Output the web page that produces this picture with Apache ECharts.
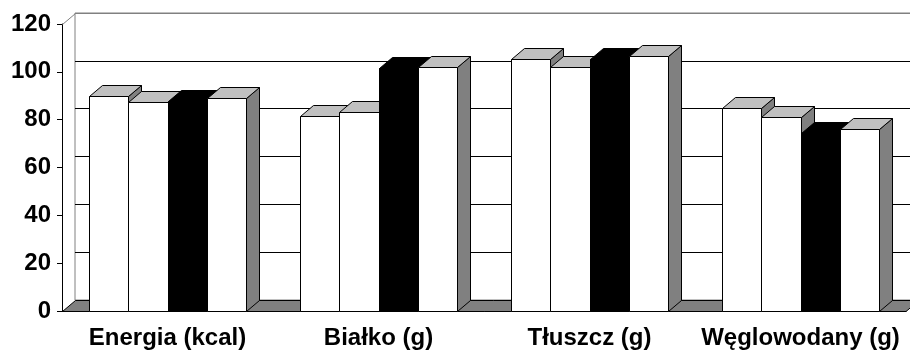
<!DOCTYPE html>
<html>
<head>
<meta charset="utf-8">
<script src="https://cdn.jsdelivr.net/npm/echarts@6/dist/echarts.min.js"></script>
<style>
html, body { margin: 0; background: #fff; }
#chart { width: 910px; height: 350px; }
</style>
</head>
<body>
<div id="chart"></div>
<script>
var categories = ['Energia (kcal)', 'Białko (g)', 'Tłuszcz (g)', 'Węglowodany (g)'];
var grupa1 = [90, 81.5, 105.5, 85];
var grupa2 = [87.5, 83, 102, 81];
var grupa3 = [88, 101.5, 105.5, 74.5];
var grupa4 = [89, 102, 106.5, 76];
var yTicks = [0, 20, 40, 60, 80, 100, 120];

// depth of the fake 3d
var DX = 13, DY = 11;
var font = { fontFamily: 'Liberation Sans', fontWeight: 'bold', fontSize: 24, color: '#000' };

function barRenderer(k, front, top, side) {
  return function (params, api) {
    var cat = api.value(0);
    var p = api.coord([cat, api.value(1)]);
    var base = api.coord([cat, 0]);
    var bw = api.size([1, 0])[0] * 0.185;
    var x0 = Math.round(p[0] - 2 * bw + k * bw) + 0.5;
    var x1 = Math.round(p[0] - 2 * bw + (k + 1) * bw) + 0.5;
    var yt = Math.round(p[1]) + 0.5, yb = Math.round(base[1]) + 0.5;
    var edge = { stroke: '#000', lineWidth: 1 };
    return {
      type: 'group',
      children: [
        { type: 'polygon', shape: { points: [[x1, yt], [x1 + DX, yt - DY], [x1 + DX, yb - DY], [x1, yb]] },
          style: Object.assign({ fill: side }, edge) },
        { type: 'polygon', shape: { points: [[x0, yt], [x0 + DX, yt - DY], [x1 + DX, yt - DY], [x1, yt]] },
          style: Object.assign({ fill: top }, edge) },
        { type: 'rect', shape: { x: x0, y: yt, width: x1 - x0, height: yb - yt },
          style: Object.assign({ fill: front }, edge) }
      ]
    };
  };
}

function toData(arr) {
  return arr.map(function (v, i) { return [i, v]; });
}

var chart = echarts.init(document.getElementById('chart'));
var option = {
  animation: false,
  grid: [
    { left: 62, right: 4, top: 24, bottom: 39, outerBoundsMode: 'none' },
    { left: 75, right: -9, top: 13, bottom: 50, outerBoundsMode: 'none',
      show: true, backgroundColor: '#fff', borderColor: '#808080', borderWidth: 1 }
  ],
  xAxis: [
    { type: 'category', data: categories, gridIndex: 0,
      axisLine: { lineStyle: { color: '#000', width: 1 } },
      axisTick: { length: 6, lineStyle: { color: '#000' } },
      axisLabel: Object.assign({ margin: 15, interval: 0 }, font) },
    { type: 'category', data: categories, gridIndex: 1, show: false }
  ],
  yAxis: [
    { type: 'value', gridIndex: 0, min: yTicks[0], max: yTicks[yTicks.length - 1], interval: 20,
      axisLine: { show: true, lineStyle: { color: '#000' } },
      axisTick: { show: true, length: 5, lineStyle: { color: '#000' } },
      splitLine: { show: false },
      axisLabel: Object.assign({ margin: 11 }, font) },
    { type: 'value', gridIndex: 1, min: yTicks[0], max: yTicks[yTicks.length - 1], interval: 20,
      axisLine: { show: false }, axisTick: { show: false }, axisLabel: { show: false },
      splitLine: { lineStyle: { color: ['#808080', '#000', '#000', '#000', '#000', '#000', '#808080'], width: 1 } } }
  ],
  series: [
    {
      // floor + left edge
      type: 'custom', xAxisIndex: 0, yAxisIndex: 0, data: [[0]],
      renderItem: function (params, api) {
        var cs = params.coordSys;
        var l = cs.x + 0.5, r = cs.x + cs.width, yb = cs.y + cs.height + 0.5, yt = cs.y + 0.5;
        return {
          type: 'group',
          children: [
            { type: 'polygon', shape: { points: [[l, yb], [l + DX, yb - DY], [r + DX, yb - DY], [r, yb]] },
              style: { fill: '#808080', stroke: '#000', lineWidth: 1 } },
            { type: 'line', shape: { x1: l, y1: yt, x2: l + DX, y2: yt - DY },
              style: { stroke: '#808080', lineWidth: 1 } }
          ]
        };
      }
    },
    { type: 'custom', name: 'grupa1', data: toData(grupa1), renderItem: barRenderer(0, '#fff', '#c0c0c0', '#808080') },
    { type: 'custom', name: 'grupa2', data: toData(grupa2), renderItem: barRenderer(1, '#fff', '#c0c0c0', '#808080') },
    { type: 'custom', name: 'grupa3', data: toData(grupa3), renderItem: barRenderer(2, '#000', '#000', '#000') },
    { type: 'custom', name: 'grupa4', data: toData(grupa4), renderItem: barRenderer(3, '#fff', '#c0c0c0', '#808080') }
  ]
};
chart.setOption(option);
</script>
</body>
</html>
